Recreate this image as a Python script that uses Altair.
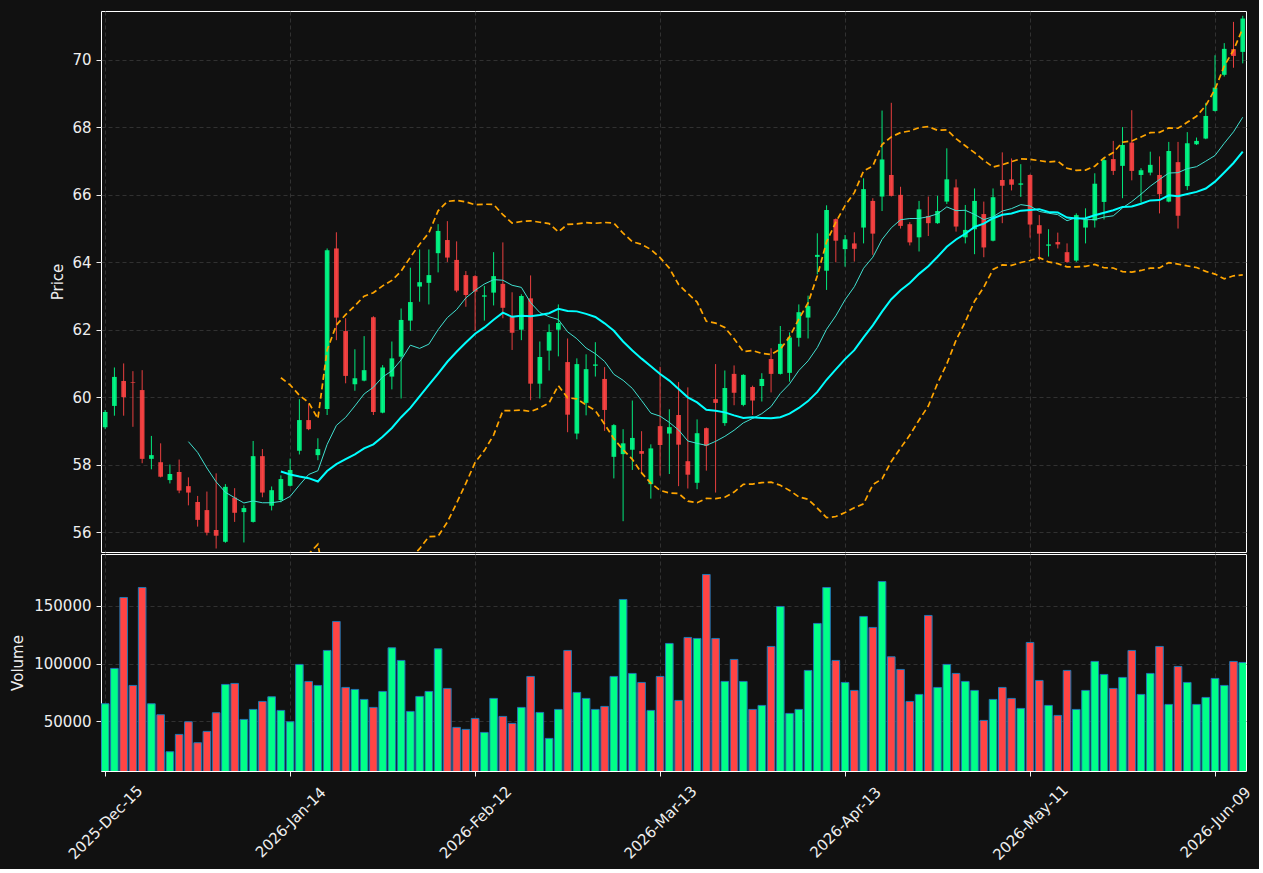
import altair as alt
import pandas as pd

# ---------------- data ----------------
tick_pos = [0, 20, 40, 60, 80, 100, 120]
tick_labels = ["2025-Dec-15", "2026-Jan-14", "2026-Feb-12", "2026-Mar-13",
               "2026-Apr-13", "2026-May-11", "2026-Jun-09"]

opens = [59.11, 59.74, 60.48, 60.45, 60.21, 58.17, 58.07, 57.54, 57.78, 57.36,
         56.89, 56.65, 56.06, 55.71, 57.02, 56.59, 56.30, 58.25, 56.78, 56.95,
         57.37, 58.41, 59.32, 58.28, 59.65, 64.41, 61.96, 60.38, 60.49, 62.37,
         59.54, 60.61, 61.20, 62.27, 63.28, 63.39, 64.27, 64.66, 64.07, 63.62,
         63.59, 62.98, 63.10, 63.36, 62.39, 62.00, 62.93, 60.40, 61.38, 62.00,
         61.04, 58.92, 59.83, 60.93, 60.54, 58.23, 58.31, 58.44, 58.40, 57.42,
         59.14, 58.92, 59.47, 58.10, 57.46, 59.08, 59.94, 59.23, 60.69, 59.77,
         60.30, 60.33, 61.13, 60.69, 60.72, 61.76, 62.36, 64.16, 63.75, 65.28,
         64.39, 64.56, 65.03, 65.82, 65.95, 66.59, 66.00, 65.13, 64.74, 65.37,
         65.16, 65.80, 66.22, 64.74, 64.98, 65.43, 64.64, 66.44, 66.46, 66.30,
         66.59, 65.10, 64.49, 64.60, 64.30, 64.05, 65.03, 65.24, 65.79, 67.06,
         66.86, 67.55, 66.59, 66.66, 66.59, 65.80, 66.97, 66.26, 67.50, 67.67,
         68.49, 69.56, 70.32, 70.24]

highs = [59.62, 60.88, 61.00, 60.77, 60.80, 58.85, 58.63, 58.00, 58.15, 57.62,
         57.07, 57.20, 57.74, 57.42, 57.30, 56.79, 58.70, 58.46, 57.35, 57.68,
         58.18, 59.94, 59.80, 58.78, 64.41, 64.89, 62.34, 61.42, 61.81, 62.40,
         60.95, 61.65, 62.63, 63.84, 64.38, 64.38, 65.13, 65.22, 64.62, 63.74,
         63.62, 63.30, 64.30, 64.59, 63.11, 63.05, 63.61, 61.65, 62.16, 62.75,
         61.74, 61.15, 61.27, 61.63, 60.89, 59.20, 59.05, 59.90, 58.99, 58.60,
         60.90, 59.64, 60.45, 60.29, 59.34, 59.10, 60.98, 60.79, 60.94, 60.68,
         60.34, 60.71, 61.45, 62.11, 61.92, 62.75, 63.01, 64.86, 65.69, 65.30,
         64.81, 64.89, 66.49, 65.90, 68.50, 68.73, 66.24, 65.19, 65.82, 65.95,
         65.97, 67.38, 66.46, 65.70, 66.19, 65.80, 66.19, 67.26, 67.08, 66.91,
         66.61, 65.40, 64.98, 64.88, 64.56, 65.45, 65.60, 66.64, 67.10, 67.60,
         68.01, 68.51, 66.79, 67.28, 67.14, 67.57, 67.57, 67.86, 67.70, 68.73,
         70.14, 70.50, 71.13, 71.31]

lows = [59.05, 59.45, 59.45, 59.12, 58.04, 57.86, 57.62, 57.44, 57.15, 56.79,
        56.16, 55.90, 55.51, 55.68, 56.30, 55.69, 56.28, 57.03, 56.64, 56.88,
        57.35, 58.30, 59.02, 58.13, 59.47, 61.69, 60.41, 60.19, 60.47, 59.47,
        59.52, 60.23, 59.96, 61.97, 62.83, 62.75, 63.70, 64.01, 63.11, 62.68,
        61.97, 62.27, 62.72, 62.34, 61.40, 61.69, 59.91, 59.96, 60.79, 61.21,
        58.96, 58.75, 59.46, 60.61, 59.00, 57.59, 56.32, 57.84, 57.74, 56.99,
        57.67, 57.72, 57.36, 57.29, 57.27, 57.82, 57.17, 59.15, 59.76, 59.73,
        59.47, 59.87, 60.14, 60.67, 60.46, 61.50, 61.74, 63.64, 63.18, 64.00,
        63.87, 64.02, 64.56, 64.22, 65.52, 65.95, 65.00, 64.50, 64.32, 64.78,
        65.14, 65.73, 64.91, 64.56, 64.24, 64.15, 64.62, 65.16, 66.13, 65.94,
        64.73, 64.06, 64.17, 64.41, 63.98, 64.01, 64.56, 65.03, 65.27, 66.59,
        65.90, 66.43, 65.77, 66.58, 65.45, 65.78, 65.00, 66.14, 67.48, 67.65,
        68.47, 69.51, 69.77, 69.90]

closes = [59.56, 60.60, 60.00, 60.43, 58.17, 58.28, 57.64, 57.72, 57.23, 57.17,
          56.36, 55.98, 55.89, 57.34, 56.57, 56.71, 58.25, 57.17, 57.24, 57.57,
          57.84, 59.32, 59.05, 58.46, 64.36, 62.36, 60.63, 60.56, 60.80, 59.56,
          60.88, 61.15, 62.29, 62.82, 63.41, 63.62, 64.93, 64.14, 63.16, 63.03,
          63.13, 63.02, 63.59, 62.65, 61.91, 63.00, 60.40, 61.19, 61.93, 62.20,
          59.48, 60.98, 60.83, 60.97, 59.62, 59.17, 58.63, 58.79, 58.32, 58.48,
          58.58, 59.11, 58.59, 57.70, 58.93, 58.56, 59.83, 60.27, 60.13, 60.66,
          59.90, 60.54, 60.69, 61.58, 61.77, 62.52, 62.70, 64.22, 65.55, 64.64,
          64.68, 64.40, 66.17, 64.85, 67.05, 65.97, 65.08, 64.59, 65.57, 65.16,
          65.52, 66.46, 65.06, 64.96, 65.82, 64.44, 65.93, 66.27, 66.30, 66.34,
          65.12, 64.85, 64.53, 64.53, 64.01, 65.40, 65.27, 66.33, 67.03, 66.71,
          67.48, 66.71, 66.73, 66.89, 66.02, 67.30, 65.38, 67.53, 67.60, 68.34,
          69.18, 70.33, 70.12, 71.23]

volumes = [65270, 95820, 157200, 81120, 165850, 65270, 55760, 23770, 38750, 49710,
           31550, 41350, 57490, 81980, 82850, 51720, 60370, 67290, 71320, 59510,
           49710, 99280, 84580, 81120, 111380, 136450, 79390, 77660, 69020, 62100,
           75930, 113690, 102740, 58640, 71610, 75930, 112820, 78520, 44810, 43080,
           52590, 40480, 69880, 54320, 48270, 62100, 88900, 57780, 35300, 60370,
           111380, 75070, 69880, 60370, 62960, 88900, 155480, 91500, 83710, 59510,
           88900, 117430, 68150, 122620, 121760, 177090, 121760, 84580, 103600, 84580,
           60370, 63830, 114840, 149420, 56910, 60370, 94090, 134730, 165850, 102740,
           83710, 76800, 140780, 131270, 171040, 105910, 94950, 67290, 73340, 141640,
           79390, 99280, 91500, 84580, 76800, 50860, 69020, 79390, 69880, 61240,
           118300, 85440, 63830, 55180, 94090, 60370, 76800, 101870, 90630, 78520,
           88040, 111380, 73340, 91500, 114840, 64690, 97550, 83710, 64690, 70740,
           87170, 81120, 101870, 101000]

df = pd.DataFrame({
    "i": list(range(len(opens))),
    "open": opens, "high": highs, "low": lows, "close": closes, "volume": volumes,
})

# ---------------- styling ----------------
BG = "#111111"
UP = "#00FF88"
DOWN = "#FF4444"
TXT = "#eeeeee"
GRID = "#3a3a3a"
FS = 15

x_scale = alt.Scale(domain=[-0.45, 123.35], nice=False, zero=False, padding=0)
p_scale = alt.Scale(domain=[55.407, 71.453], nice=False, zero=False, padding=0)
v_scale = alt.Scale(domain=[7100, 194800], nice=False, zero=False, padding=0)

label_expr = "[" + ",".join("'%s'" % s for s in tick_labels) + "][round(datum.value / 20)]"

x_price = alt.X("i:Q", scale=x_scale,
                axis=alt.Axis(values=tick_pos, labels=False, ticks=False, domain=False,
                              title=None, grid=True, labelPadding=0, tickSize=0,
                              minExtent=0, maxExtent=0))


def y_price(field):
    return alt.Y(field, scale=p_scale,
                 axis=alt.Axis(values=[56, 58, 60, 62, 64, 66, 68, 70], title="Price",
                               grid=True, tickSize=5, labelPadding=5, titleX=-44,
                               titleBaseline="middle", domain=False))


up_cond = alt.condition("datum.close >= datum.open", alt.value(UP), alt.value(DOWN))

base = alt.Chart(df)

wick = base.mark_rule(strokeWidth=1, opacity=0.9).encode(
    x=x_price, y=y_price("low:Q"), y2="high:Q", color=up_cond,
)
body = base.mark_bar(size=4.7, opacity=0.9).encode(
    x=x_price, y=y_price("open:Q"), y2="close:Q", color=up_cond,
)

ma10 = base.transform_window(
    ma10="mean(close)", n10="count()", frame=[-9, 0], sort=[alt.SortField("i")]
).transform_filter("datum.n10 >= 10").mark_line(
    color="#40E0D0", strokeWidth=1, clip=True
).encode(x=x_price, y=y_price("ma10:Q"))

bb = base.transform_window(
    ma20="mean(close)", sd20="stdev(close)", n20="count()", frame=[-19, 0],
    sort=[alt.SortField("i")]
).transform_filter("datum.n20 >= 20").transform_calculate(
    upper="datum.ma20 + 2 * datum.sd20", lower="datum.ma20 - 2 * datum.sd20"
)

ma20 = bb.mark_line(color="#00FFFF", strokeWidth=2, clip=True).encode(
    x=x_price, y=y_price("ma20:Q"))
upper = bb.mark_line(color="#FFA500", strokeWidth=1.7, strokeDash=[6, 3.5], clip=True).encode(
    x=x_price, y=y_price("upper:Q"))
lower = bb.mark_line(color="#FFA500", strokeWidth=1.7, strokeDash=[6, 3.5], clip=True).encode(
    x=x_price, y=y_price("lower:Q"))

price = alt.layer(wick, body, ma10, ma20, upper, lower).properties(width=1145, height=541)

vol = base.mark_bar(size=7.6, stroke="#1f77b4", strokeWidth=1, clip=True).encode(
    x=alt.X("i:Q", scale=x_scale,
            axis=alt.Axis(values=tick_pos, labelExpr=label_expr, labelAngle=-45,
                          labelAlign="center", labelBaseline="middle", labelPadding=46,
                          tickSize=5, grid=True, title=None, domain=False,
                          labelFlush=False, labelOverlap=False)),
    y=alt.Y("volume:Q", scale=v_scale,
            axis=alt.Axis(values=[50000, 100000, 150000], format="d", title="Volume",
                          grid=True, tickSize=5, labelPadding=5, titleX=-84,
                          titleBaseline="middle", domain=False)),
    color=alt.condition("datum.close >= datum.open", alt.value(UP), alt.value(DOWN)),
).properties(width=1145, height=217)

chart = alt.vconcat(price, vol, spacing=0).configure(
    background=BG,
    padding={"left": 9, "top": 10, "right": 5, "bottom": 5},
    font="DejaVu Sans",
).configure_view(
    stroke="#ffffff", strokeWidth=1, fill=BG,
).configure_axis(
    gridColor=GRID, gridDash=[4, 3], gridWidth=0.8,
    labelColor=TXT, titleColor=TXT, tickColor=TXT,
    labelFontSize=FS, titleFontSize=FS, titleFontWeight="normal",
    labelFont="DejaVu Sans", titleFont="DejaVu Sans",
)

chart.save("out.html", embed_options={"renderer": "svg", "actions": False})
